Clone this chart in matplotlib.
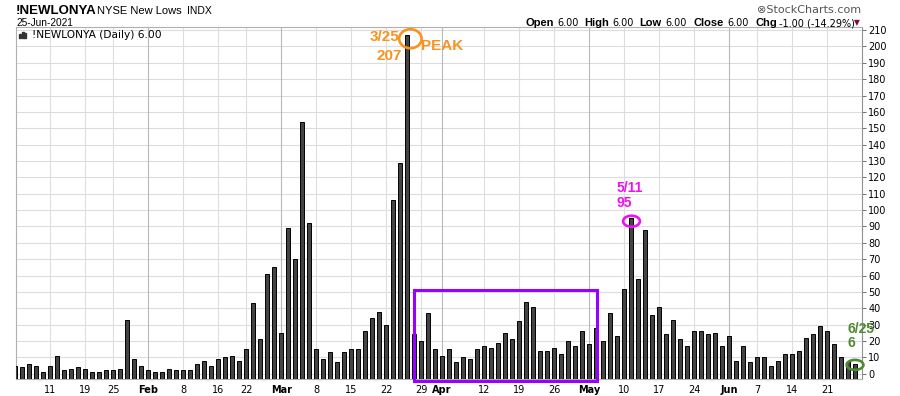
import numpy as np
import pandas as pd
import matplotlib
matplotlib.use("Agg")
import matplotlib.pyplot as plt
from matplotlib.patches import Ellipse, Rectangle

W, H = 900, 396
SANS = "Liberation Sans"
VERD = "DejaVu Sans"

# NYSE new lows, daily, Jan 4 .. Jun 25 2021 (trading days only)
holidays = ["2021-01-18", "2021-02-15", "2021-04-02", "2021-05-31"]
jan = [5, 4, 6, 5, 1, 5, 11, 2, 3, 4, 3, 1, 1, 2, 2, 3, 33, 9, 5]
feb = [2, 1, 1, 3, 2, 2, 2, 6, 8, 5, 9, 10, 11, 8, 15, 43, 21, 61, 65]
mar = [25, 89, 70, 154, 92, 15, 9, 13, 7, 13, 15, 15, 26, 34, 38,
       30, 106, 129, 207, 24, 20, 37, 15]
apr = [11, 15, 7, 10, 9, 15, 17, 16, 19, 25, 21, 32, 44, 41, 14, 14,
       16, 12, 20, 17, 26]
may = [18, 28, 20, 37, 23, 52, 95, 58, 88, 36, 41, 24, 33, 21, 17,
       26, 26, 24, 25, 17]
jun = [23, 8, 17, 7, 10, 10, 5, 8, 12, 12, 14, 22, 24, 29, 26, 18, 10, 7, 6]
new_lows = np.array(jan + feb + mar + apr + may + jun, dtype=float)

tick_dates = ["2021-01-11", "2021-01-19", "2021-01-25", "2021-02-01",
              "2021-02-08", "2021-02-16", "2021-02-22", "2021-03-01",
              "2021-03-08", "2021-03-15", "2021-03-22", "2021-03-29",
              "2021-04-01", "2021-04-12", "2021-04-19", "2021-04-26",
              "2021-05-03", "2021-05-10", "2021-05-17", "2021-05-24",
              "2021-06-01", "2021-06-07", "2021-06-14", "2021-06-21"]
tick_labels = ["11", "19", "25", "Feb", "8", "16", "22", "Mar", "8", "15",
               "22", "29", "Apr", "12", "19", "26", "May", "10", "17", "24",
               "Jun", "7", "14", "21"]
month_labels = {"Feb", "Mar", "Apr", "May", "Jun"}

box_start, box_end, box_top = "2021-03-26", "2021-05-04", 51

dates = pd.bdate_range("2021-01-04", "2021-06-25")
dates = dates[~dates.isin(pd.to_datetime(holidays))]
x = np.arange(len(dates))


def idx(d):
    return int(dates.get_loc(pd.Timestamp(d)))


YBOT, YTOP = -3.4, 211.7

fig = plt.figure(figsize=(W / 100, H / 100), dpi=100)
ax = fig.add_axes([16 / W, 1 - 379.3 / H, 846 / W, 352 / H])
ax.set_xlim(0.1, 121.0)
ax.set_ylim(YBOT, YTOP)

# grid
ax.set_yticks(np.arange(0, 211, 10))
for v in np.arange(0, 211, 10):
    ax.axhline(v, color="#dddddd", lw=0.8, zorder=1)
tpos = [idx(d) for d in tick_dates]
for p, lab in zip(tpos, tick_labels):
    ax.axvline(p, color="#b8b8b8" if lab in month_labels else "#dddddd",
               lw=0.8, zorder=1)

ax.bar(x, new_lows - YBOT, bottom=YBOT, width=0.6, color="#444444",
       edgecolor="black", linewidth=0.7, zorder=3)

# axes styling
for s in ["left", "top", "bottom"]:
    ax.spines[s].set_color("#b0b0b0")
    ax.spines[s].set_linewidth(0.8)
ax.spines["right"].set_color("#909090")
ax.spines["right"].set_linewidth(0.8)
ax.yaxis.tick_right()
ax.tick_params(axis="y", direction="out", length=3, width=0.7,
               color="#707070", pad=1.5, labelsize=7)
ax.set_xticks(tpos)
ax.set_xticklabels(tick_labels)
ax.tick_params(axis="x", length=0, pad=4, labelsize=7)
for t in ax.get_yticklabels():
    t.set_fontfamily(VERD)
for t, lab in zip(ax.get_xticklabels(), tick_labels):
    t.set_fontfamily(VERD)
    if lab in month_labels:
        t.set_fontweight("bold")

# purple range box
b0, b1 = idx(box_start), idx(box_end) + 0.1
ax.add_patch(Rectangle((b0, -4.4), b1 - b0, box_top + 4.4, fill=False,
                       ec="#9a00ff", lw=2.2, clip_on=False, zorder=5))

# annotations
ORANGE, MAGENTA, GREEN = "#f7931e", "#ee11ee", "#4d8a30"


def mark(d, color, dx, dy, w, h, texts):
    i = idx(d)
    v = new_lows[i]
    ax.add_patch(Ellipse((i + dx, v + dy), w, h, fill=False, ec=color,
                         lw=1.9, clip_on=False, zorder=6))
    for s, ox, oy, ha, fs in texts:
        ax.annotate(s, (i, v), xytext=(ox, oy), textcoords="offset points",
                    ha=ha, va="baseline", color=color, fontsize=fs,
                    fontweight="bold", family=SANS, annotation_clip=False,
                    zorder=7)


mark("2021-03-25", ORANGE, 0.46, -2.3, 3.2, 11.6,
     [("3/25", -5.8, -4.1, "right", 11), ("207", -4.0, -18.0, "right", 11),
      ("PEAK", 9.9, -10.8, "left", 11)])
mark("2021-05-11", MAGENTA, 0.06, -1.8, 2.4, 6.7,
     [("5/11", -10.5, 19.2, "left", 10), ("95", -10.5, 7.9, "left", 10)])
mark("2021-06-25", GREEN, 0.0, -0.6, 2.4, 6.1,
     [("6/25", -5.5, 22.1, "left", 10), ("6", -5.3, 12.0, "left", 10)])


def ftext(px, py, s, **kw):
    fig.text(px / W, 1 - py / H, s, va="baseline", **kw)


# header
ftext(16, 14, "!NEWLONYA", family=SANS, fontsize=9.5, fontweight="bold")
ftext(97, 14, "NYSE New Lows", family=SANS, fontsize=8)
ftext(187, 14, "INDX", family=SANS, fontsize=7.5)
ftext(16, 26.5, "25-Jun-2021", family=SANS, fontsize=7.3)
ftext(757, 13, "\u2297StockCharts.com", family=VERD, fontsize=8,
      color="#555555")

quote = [(526, "Open", True), (557, "6.00", False), (584, "High", True),
         (612, "6.00", False), (639, "Low", True), (665, "6.00", False),
         (693, "Close", True), (727, "6.00", False), (755, "Chg", True),
         (779, "-1.00 (-14.29%)", False)]
for px, s, bold in quote:
    ftext(px, 26, s, family=SANS if bold else VERD,
          fontsize=8 if bold else 7, fontweight="bold" if bold else "normal")
ftext(854, 25.5, "\u25bc", family=VERD, fontsize=5.5, color="#8b0a2a")

# legend line inside the chart
for k, (hx, hh) in enumerate([(19, 4), (21.5, 6), (24, 5)]):
    fig.patches.append(Rectangle((hx / W, 1 - 38 / H), 2 / W, hh / H,
                                 transform=fig.transFigure, color="#333333"))
ftext(32, 38, "!NEWLONYA (Daily) 6.00", family=VERD, fontsize=7.7)

fig.savefig("out.png", dpi=100)
